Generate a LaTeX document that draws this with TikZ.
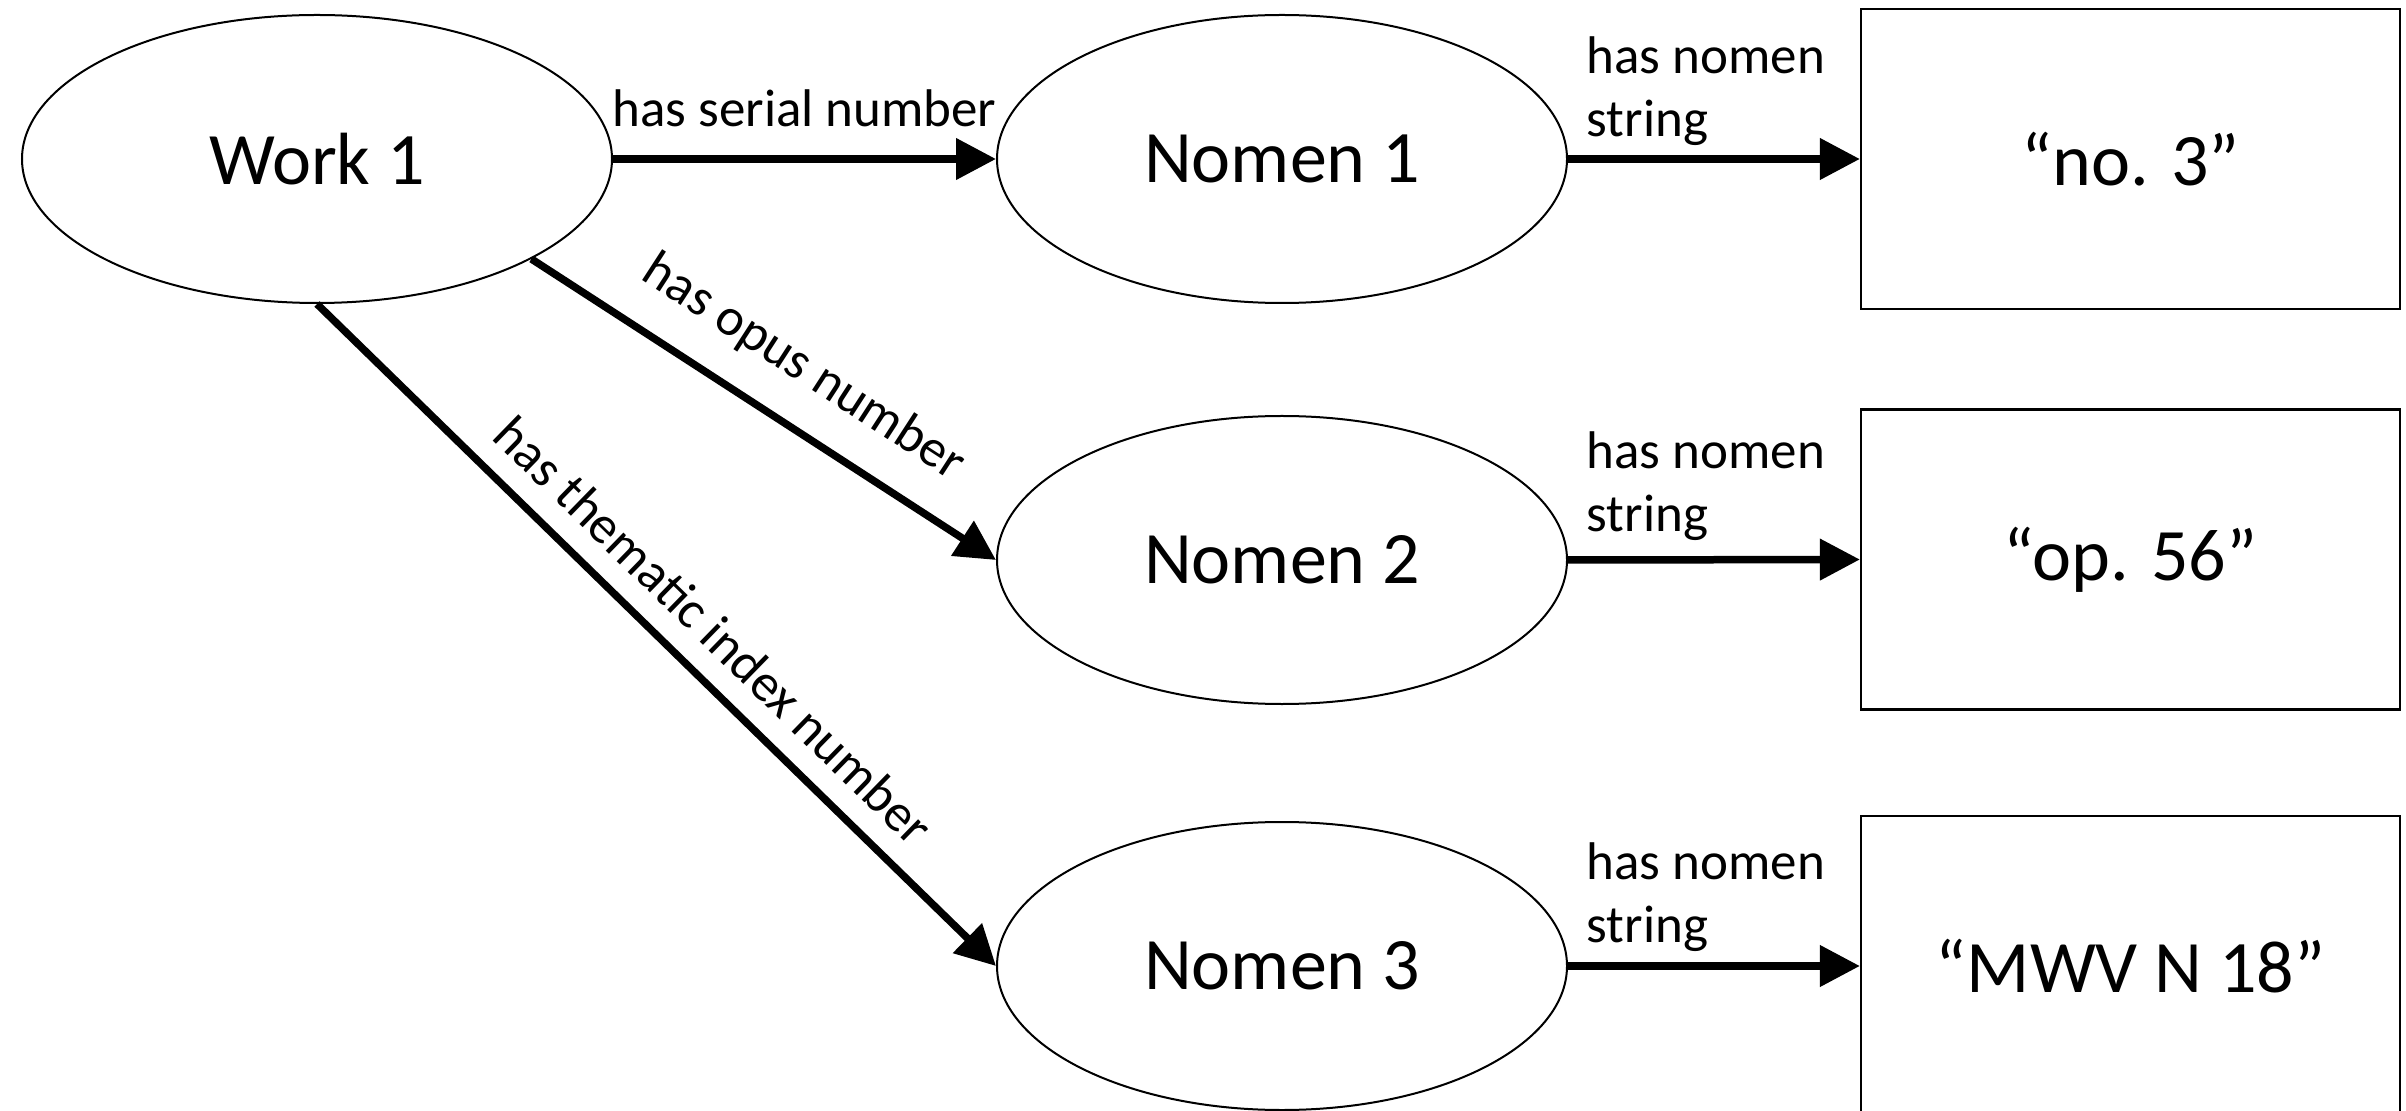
\documentclass[tikz,border=0pt]{standalone}
\usepackage{fontspec}
\setmainfont{Carlito}
\usetikzlibrary{shapes.geometric,arrows.meta}
\begin{document}
\begin{tikzpicture}[x=0.4pt,y=-0.4pt,
  ent/.style={ellipse, draw, line width=0.8pt, minimum width=228pt, minimum height=115.2pt,
    inner sep=0pt, font=\fontsize{29.6pt}{35pt}\selectfont},
  lit/.style={rectangle, draw, line width=0.9pt, minimum width=215.6pt, minimum height=120pt,
    inner sep=0pt, font=\fontsize{29.6pt}{35pt}\selectfont},
  rel/.style={line width=3pt, -{Triangle[length=16pt,width=16pt]}},
  lbl/.style={font=\fontsize{21.2pt}{25.2pt}\selectfont, inner sep=0pt}]
\useasboundingbox (0,0) rectangle (2406,1111);
\clip (0,0) rectangle (2406,1111);
\node[ent, minimum width=236pt] (w1) at (317,159) {Work 1};
\node[ent] (n1) at (1282,159) {Nomen 1};
\node[ent] (n2) at (1282,560) {Nomen 2};
\node[ent] (n3) at (1282,966) {Nomen 3};
\node[lit] (b1) at (2130.5,159) {“no. 3”};
\node[lit] (b2) at (2130.5,559.5) {“op. 56”};
\node[lit] (b3) at (2130.5,966) {“MWV N 18”};
\draw[rel] (w1.east) -- (n1.west)
  node[lbl, midway, anchor=base, yshift=12.8pt] (l1) {has serial number};
\draw[rel] (w1.-25.6) -- (n2.west)
  node[lbl, pos=0.52, sloped, anchor=south, inner ysep=12pt] (l2) {has opus number};
\draw[rel] (w1.south) -- (n3.west)
  node[lbl, pos=0.54, sloped, anchor=south, inner ysep=8.5pt] (l3) {has thematic index number};
\draw[rel] (n1.east) -- (b1.west)
  node[lbl, at start, anchor=south west, align=left, text depth=0pt, xshift=6pt, yshift=7.6pt] (s1) {has nomen\\string};
\draw[rel] (n2.east) -- (b2.west)
  node[lbl, at start, anchor=south west, align=left, text depth=0pt, xshift=6pt, yshift=10pt] (s2) {has nomen\\string};
\draw[rel] (n3.east) -- (b3.west)
  node[lbl, at start, anchor=south west, align=left, text depth=0pt, xshift=6pt, yshift=8pt] (s3) {has nomen\\string};
\end{tikzpicture}
\end{document}
